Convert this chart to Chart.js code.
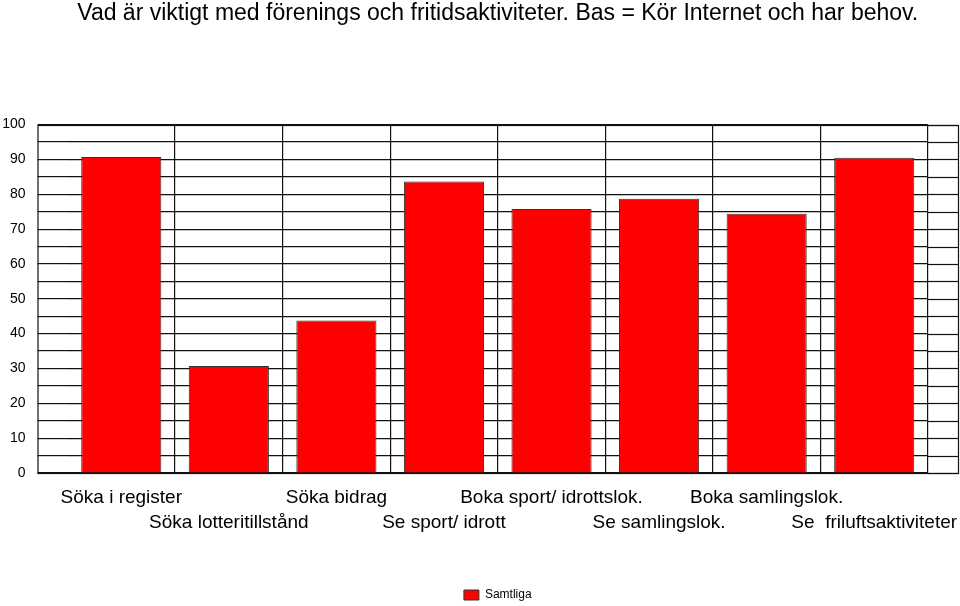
<!DOCTYPE html>
<html>
<head>
<meta charset="utf-8">
<script src="https://cdn.jsdelivr.net/npm/chart.js@4"></script>
<style>
  html, body { margin: 0; padding: 0; background: #fff; }
  #wrap { width: 960px; height: 606px; }
</style>
</head>
<body>
<div id="wrap"><canvas id="barChart"></canvas></div>
<script>
const categories = [
  'Söka i register', 'Söka lotteritillstånd', 'Söka bidrag', 'Se sport/ idrott',
  'Boka sport/ idrottslok.', 'Se samlingslok.', 'Boka samlingslok.', 'Se  friluftsaktiviteter'
];
const samtliga = [90.7, 30.7, 43.8, 83.7, 75.8, 78.7, 74.4, 90.5];
const yTicks = [0, 10, 20, 30, 40, 50, 60, 70, 80, 90, 100];

// staggered labels: even ones on the first row, odd ones on the second
const labels = categories.map((c, i) => i % 2 === 0 ? [c, ''] : ['', c]);

// outer frame is wider than the category area, draw it and extend grid to the right
const framePlugin = {
  id: 'frame',
  afterDraw(chart) {
    const {ctx, chartArea, scales} = chart;
    const left = chartArea.left - 30, right = chartArea.right + 30;
    ctx.save();
    ctx.strokeStyle = '#111';
    ctx.lineWidth = 1.2;
    for (let v = 0; v <= 100; v += 5) {
      const y = Math.round(scales.y.getPixelForValue(v)) + 0.5;
      ctx.beginPath();
      ctx.moveTo(chartArea.right, y);
      ctx.lineTo(right, y);
      ctx.stroke();
    }
    ctx.strokeRect(left + 0.5, Math.round(chartArea.top) + 0.5, right - left, Math.round(chartArea.bottom - chartArea.top));
    ctx.restore();
  }
};

new Chart(document.getElementById('barChart'), {
  type: 'bar',
  data: {
    labels: labels,
    datasets: [{
      label: 'Samtliga',
      data: samtliga,
      backgroundColor: '#ff0000',
      borderColor: '#333',
      borderWidth: 1,
      categoryPercentage: 1,
      barPercentage: 0.745
    }]
  },
  options: {
    responsive: true,
    maintainAspectRatio: false,
    animation: false,
    layout: { padding: { left: 0, right: 32, top: 0, bottom: -5 } },
    plugins: {
      title: {
        display: true,
        fullSize: false,
        text: 'Vad är viktigt med förenings och fritidsaktiviteter. Bas = Kör Internet och har behov.',
        color: '#000',
        font: { family: 'Liberation Sans', size: 23, weight: 'normal' },
        padding: { top: 0, bottom: 97 }
      },
      legend: {
        position: 'bottom',
        fullSize: false,
        labels: {
          color: '#000',
          font: { family: 'Liberation Sans', size: 12 },
          boxWidth: 15,
          boxHeight: 10,
          padding: 2
        }
      },
      tooltip: { enabled: false }
    },
    scales: {
      x: {
        offset: true,
        border: { display: false },
        afterFit(scale) {
          scale.height = 114;
          scale.paddingLeft = 0;
          scale.paddingRight = 0;
        },
        grid: {
          offset: true,
          drawTicks: false,
          color: ctx => (ctx.index === 0 || ctx.index === categories.length) ? 'rgba(0,0,0,0)' : '#111',
          lineWidth: 1.2
        },
        ticks: {
          color: '#000',
          autoSkip: false,
          maxRotation: 0,
          padding: 12,
          font: { family: 'Liberation Sans', size: 19, lineHeight: 1.32 }
        }
      },
      y: {
        min: 0,
        max: 100,
        border: { display: false },
        afterFit(scale) { scale.width = 67.5; },
        afterBuildTicks(scale) {
          const t = [];
          for (let v = 0; v <= 100; v += 5) t.push({ value: v });
          scale.ticks = t;
        },
        grid: { color: '#111', lineWidth: 1.2, tickLength: 30 },
        ticks: {
          color: '#000',
          autoSkip: false,
          padding: 12,
          font: { family: 'Liberation Sans', size: 14 },
          callback: v => yTicks.includes(v) ? String(v) : ''
        }
      }
    }
  },
  plugins: [framePlugin]
});
</script>
</body>
</html>
